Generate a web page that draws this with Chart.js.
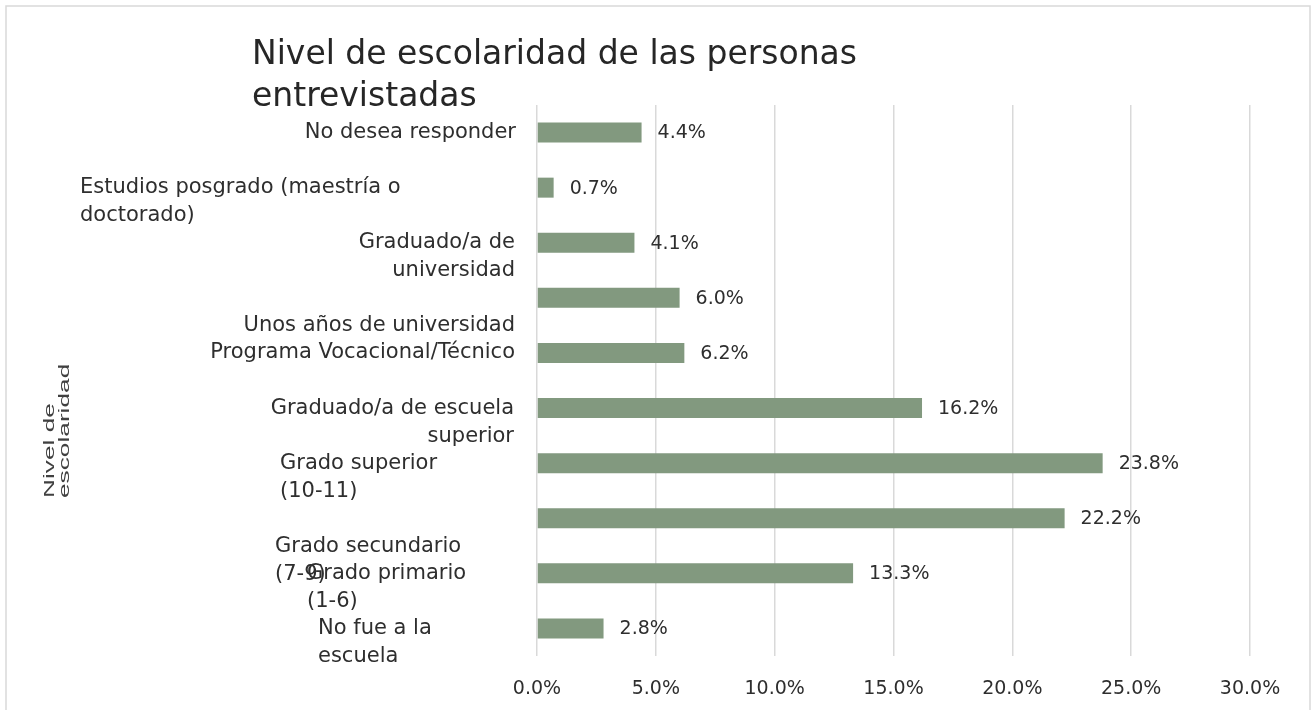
<!DOCTYPE html>
<html>
<head>
<meta charset="utf-8">
<script src="https://cdn.jsdelivr.net/npm/chart.js@4.4.1/dist/chart.umd.min.js"></script>
<style>
  body { margin: 0; background: #fff; }
  #wrap { width: 1313px; height: 710px; position: relative; }
</style>
</head>
<body>
<div id="wrap"><canvas id="myChart"></canvas></div>
<script>
/***** data *****/
var categories = [
    ["No desea responder"],
    ["Estudios posgrado (maestría o", "doctorado)"],
    ["Graduado/a de", "universidad"],
    ["Unos años de universidad"],
    ["Programa Vocacional/Técnico"],
    ["Graduado/a de escuela", "superior"],
    ["Grado superior", "(10-11)"],
    ["Grado secundario", "(7-9)"],
    ["Grado primario", "(1-6)"],
    ["No fue a la", "escuela"]
];
var values = [4.4, 0.7, 4.1, 6.0, 6.2, 16.2, 23.8, 22.2, 13.3, 2.8];
var xTicks = [0, 5, 10, 15, 20, 25, 30];
var chartTitle = ["Nivel de escolaridad de las personas", "entrevistadas"];
var axisTitle = ["Nivel de", "escolaridad"];

// where each category label sits (the original has them shifted around)
var labelLayout = [
    { align: "right", x: 516, dy: 0 },
    { align: "left",  x: 80,  dy: 0 },
    { align: "right", x: 515, dy: 0 },
    { align: "right", x: 515, dy: 28 },
    { align: "right", x: 515, dy: 0 },
    { align: "right", x: 514, dy: 0 },
    { align: "left",  x: 280, dy: 0 },
    { align: "left",  x: 275, dy: 28 },
    { align: "left",  x: 307, dy: 0 },
    { align: "left",  x: 318, dy: 0 }
];

var FONT = "'DejaVu Sans', sans-serif";
var TEXT = "#2e2e2e";
var GRID = "#d9d9d9";

var decorations = {
    id: "decorations",
    beforeDraw: function(chart) {
        var ctx = chart.ctx;
        ctx.save();
        ctx.strokeStyle = GRID;
        ctx.lineWidth = 1.5;
        ctx.strokeRect(6, 6, 1304, 730);
        ctx.restore();
    },
    afterDraw: function(chart) {
        var ctx = chart.ctx;
        var yScale = chart.scales.y;
        ctx.save();
        // title
        ctx.fillStyle = "#262626";
        ctx.font = "33px " + FONT;
        ctx.textAlign = "left";
        ctx.textBaseline = "alphabetic";
        ctx.fillText(chartTitle[0], 252, 64);
        ctx.fillText(chartTitle[1], 252, 106);

        // category labels
        ctx.fillStyle = TEXT;
        ctx.font = "21px " + FONT;
        ctx.textBaseline = "middle";
        for (var i = 0; i < categories.length; i++) {
            var lay = labelLayout[i];
            var y = yScale.getPixelForValue(i) + lay.dy;
            ctx.textAlign = lay.align;
            for (var j = 0; j < categories[i].length; j++) {
                ctx.fillText(categories[i][j], lay.x, y + j * 28);
            }
        }

        // value labels
        ctx.font = "19px " + FONT;
        ctx.textAlign = "left";
        var meta = chart.getDatasetMeta(0);
        meta.data.forEach(function(bar, k) {
            ctx.fillText(values[k].toFixed(1) + "%", bar.x + 16, bar.y + 1);
        });

        // axis title, rotated and stretched
        ctx.fillStyle = "#404040";
        ctx.font = "15px 'Liberation Sans', Arial, sans-serif";
        ctx.textAlign = "left";
        ctx.textBaseline = "middle";
        for (var m = 0; m < axisTitle.length; m++) {
            ctx.save();
            ctx.translate(50 + m * 15, 498);
            ctx.rotate(-Math.PI / 2);
            ctx.scale(1.75, 1);
            ctx.fillText(axisTitle[m], 0, 0);
            ctx.restore();
        }
        ctx.restore();
    }
};

var myChart = new Chart(
    document.getElementById("myChart"),
    {
        type: "bar",
        data: {
            labels: categories,
            datasets: [{
                data: values,
                backgroundColor: "#82997f",
                borderWidth: 0,
                barPercentage: 0.363,
                categoryPercentage: 1
            }]
        },
        options: {
            indexAxis: "y",
            responsive: true,
            maintainAspectRatio: false,
            animation: false,
            layout: {
                padding: { left: 537, right: 63, top: 105, bottom: 0 }
            },
            plugins: {
                legend: { display: false },
                tooltip: { enabled: false }
            },
            scales: {
                y: {
                    display: false
                },
                x: {
                    min: xTicks[0],
                    max: xTicks[xTicks.length - 1],
                    afterFit: function(scale) {
                        scale.height = 54;
                    },
                    afterBuildTicks: function(scale) {
                        scale.ticks = xTicks.map(function(v) { return { value: v }; });
                    },
                    border: { display: false },
                    grid: {
                        color: GRID,
                        lineWidth: 1.5,
                        drawTicks: false
                    },
                    ticks: {
                        color: TEXT,
                        padding: 22,
                        font: { family: FONT, size: 19 },
                        callback: function(v) { return v.toFixed(1) + "%"; }
                    }
                }
            }
        },
        plugins: [decorations]
    }
);
</script>
</body>
</html>
